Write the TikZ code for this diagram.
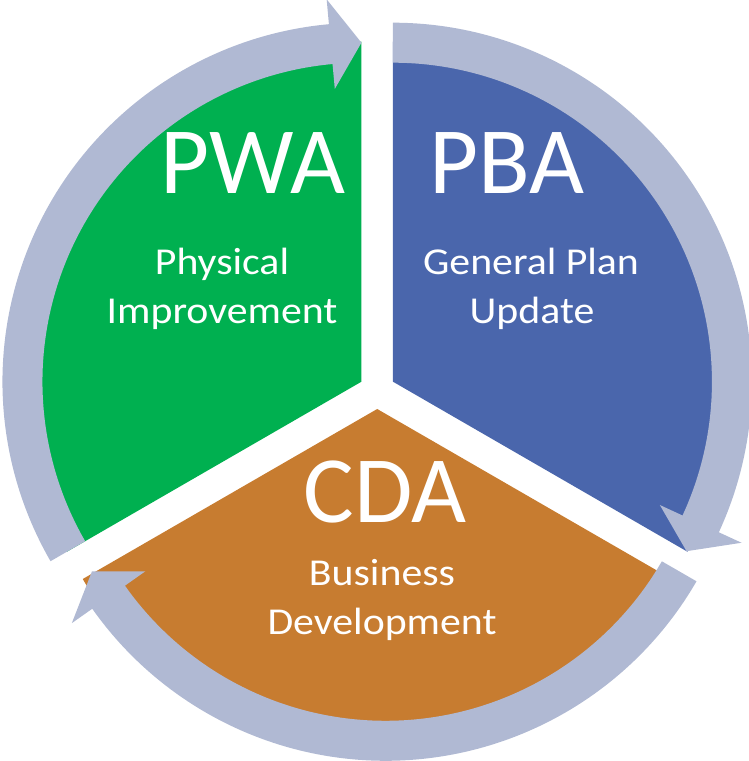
\documentclass[tikz,border=0pt]{standalone}
\usepackage{fontspec}
\setmainfont{Carlito}
\newfontfamily\subfont[FakeStretch=1.1]{Carlito}
\definecolor{pwagreen}{HTML}{00B050}
\definecolor{pbablue}{HTML}{4A66AC}
\definecolor{cdaorange}{HTML}{C77C30}
\definecolor{arrowgray}{HTML}{B0B9D3}
\newcommand\cycarrow[3]{%
  \begin{scope}[shift={(#1)}]
    \pgfmathsetmacro\hb{#3+5.2}
    \fill[cyclearrow] (#2:359) arc[start angle=#2,end angle=\hb,radius=359]
      -- (\hb:384) -- (#3:339) -- (\hb:294) -- (\hb:319)
      arc[start angle=\hb,end angle=#2,radius=319] -- cycle;
  \end{scope}}
\begin{document}
\begin{tikzpicture}[x=1pt,y=1pt,
  cyclearrow/.style={fill=arrowgray},
  titletext/.style={text=white, font=\fontsize{95}{110}\selectfont, inner sep=0pt, anchor=base},
  subtext/.style={text=white, font=\subfont\fontsize{38}{44}\selectfont, inner sep=0pt, anchor=base}]
\useasboundingbox (0,0) rectangle (749,761);
\coordinate (G) at (361.44,379.3);
\coordinate (B) at (392.96,379.3);
\coordinate (O) at (377.2,352.0);
\coordinate (A3) at (385.6,359.2);
% slices
\fill[pwagreen] (G) -- ++(90:340) arc[start angle=90,end angle=210,radius=340] -- cycle;
\fill[pbablue] (B) -- ++(-30:340) arc[start angle=-30,end angle=90,radius=340] -- cycle;
\fill[cdaorange] (O) -- ++(210:340) arc[start angle=210,end angle=330,radius=340] -- cycle;
% arrows
\cycarrow{G}{210}{90}
\cycarrow{B}{90}{-30}
\cycarrow{A3}{-30}{-150}
% texts
\node[titletext] (pwa) at (253,567) {PWA};
\node[titletext] (pba) at (507,567) {PBA};
\node[titletext] (cda) at (385,238.3) {CDA};
\node[subtext] (pwa1) at (222,486) {Physical};
\node[subtext] (pwa2) at (222,437.7) {Improvement};
\node[subtext] (pba1) at (531,486) {General Plan};
\node[subtext] (pba2) at (532,437.7) {Update};
\node[subtext] (cda1) at (382,175) {Business};
\node[subtext] (cda2) at (382,126) {Development};
\end{tikzpicture}
\end{document}
